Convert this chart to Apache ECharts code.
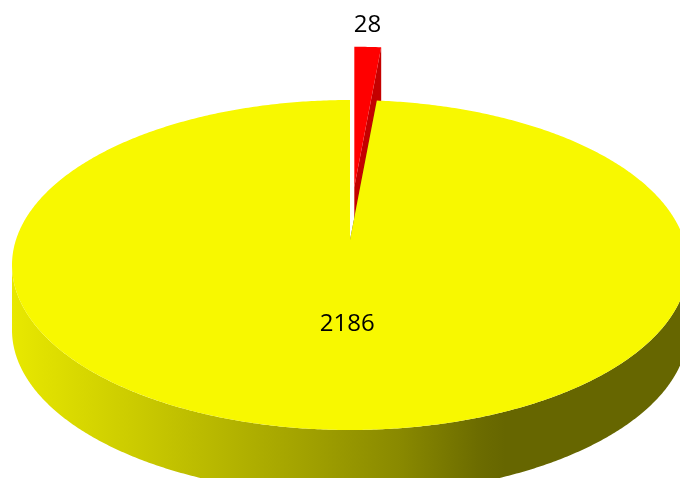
<!DOCTYPE html>
<html>
<head>
<meta charset="utf-8">
<script src="https://cdn.jsdelivr.net/npm/echarts@6/dist/echarts.min.js"></script>
<style>
html,body{margin:0;padding:0;background:#fff;}
#main{width:680px;height:478px;}
</style>
</head>
<body>
<div id="main"></div>
<script>
// data
var names = ['Slice A', 'Slice B'];
var values = [28, 2186];

// look
var topColors = ['#ff0000', '#f8f800'];
var sideColors = ['#c40000', '#666600'];
var explode = [0.323, 0];
var wallStops = [
	{ offset: 0, color: '#e8e800' },
	{ offset: 0.2, color: '#c8c800' },
	{ offset: 0.43, color: '#a2a200' },
	{ offset: 0.57, color: '#8a8a00' },
	{ offset: 0.69, color: '#6c6c00' },
	{ offset: 0.73, color: '#666600' },
	{ offset: 1, color: '#666600' }
];

// pseudo 3d geometry (px)
var CX = 350, CY = 265, RX = 338, RY = 165, DEPTH = 65, LIFT = 25;

initPage();

function initPage(){
	var myChart = echarts.init(document.getElementById('main'));
	var option = {
		animation: false,
		series: [{
			type: 'custom',
			coordinateSystem: 'none',
			silent: true,
			renderItem: renderSlice,
			data: values.map(function(v, i){ return { name: names[i], value: [v] }; })
		}]
	};
	myChart.setOption(option);
}
//
function renderSlice(params, api){
	var i = params.dataIndex;
	var total = 0, start = 0;
	for (var j = 0; j < values.length; j++) {
		total += values[j];
		if (j < i) start += values[j];
	}
	var v = api.value(0);
	var a0 = start / total * Math.PI * 2;
	var a1 = (start + v) / total * Math.PI * 2;
	var mid = (a0 + a1) / 2;
	var e = explode[i];
	var ox = CX + e * RX * Math.sin(mid);
	var oy = CY - e * RY * Math.cos(mid);

	function arc(a, dz){
		return [ox + RX * Math.sin(a), oy - RY * Math.cos(a) + dz];
	}
	function arcPoints(from, to, dz){
		var n = Math.max(2, Math.ceil(Math.abs(to - from) / (Math.PI / 360)));
		var pts = [];
		for (var k = 0; k <= n; k++) pts.push(arc(from + (to - from) * k / n, dz));
		return pts;
	}
	var apexTop = [ox, oy - LIFT];
	var apexBot = [ox, oy - LIFT + DEPTH];
	var children = [];
	var base = i * 10;

	// radial faces
	[a0, a1].forEach(function(a){
		children.push({
			type: 'polygon',
			z2: base + 1,
			shape: { points: [apexTop, arc(a, 0), arc(a, DEPTH), apexBot] },
			style: { fill: sideColors[i] }
		});
	});

	// outer wall, front half only
	var lo = Math.max(a0, Math.PI / 2), hi = Math.min(a1, Math.PI * 1.5);
	if (lo < hi) {
		var wall = arcPoints(lo, hi, 0).concat(arcPoints(hi, lo, DEPTH));
		var fill = sideColors[i];
		if (i == 1) {
			fill = new echarts.graphic.LinearGradient(CX - RX, 0, CX + RX, 0, wallStops, true);
		}
		children.push({
			type: 'polygon',
			z2: base + 2,
			shape: { points: wall },
			style: { fill: fill }
		});
	}

	// top face
	children.push({
		type: 'polygon',
		z2: base + 3,
		shape: { points: [apexTop].concat(arcPoints(a0, a1, 0)) },
		style: { fill: topColors[i] }
	});

	// label: small slices outside, big ones inside
	var f = (v / total < 0.05) ? 1.135 : 0.35;
	children.push({
		type: 'text',
		z2: 100,
		style: {
			text: String(v),
			x: ox + f * RX * Math.sin(mid) + (f > 1 ? -2 : 2),
			y: oy - f * RY * Math.cos(mid) + 1,
			fill: '#000',
			font: '24px "Open Sans"',
			align: 'center',
			verticalAlign: 'middle',
			textAlign: 'center',
			textVerticalAlign: 'middle'
		}
	});

	return { type: 'group', children: children };
}
</script>
</body>
</html>
